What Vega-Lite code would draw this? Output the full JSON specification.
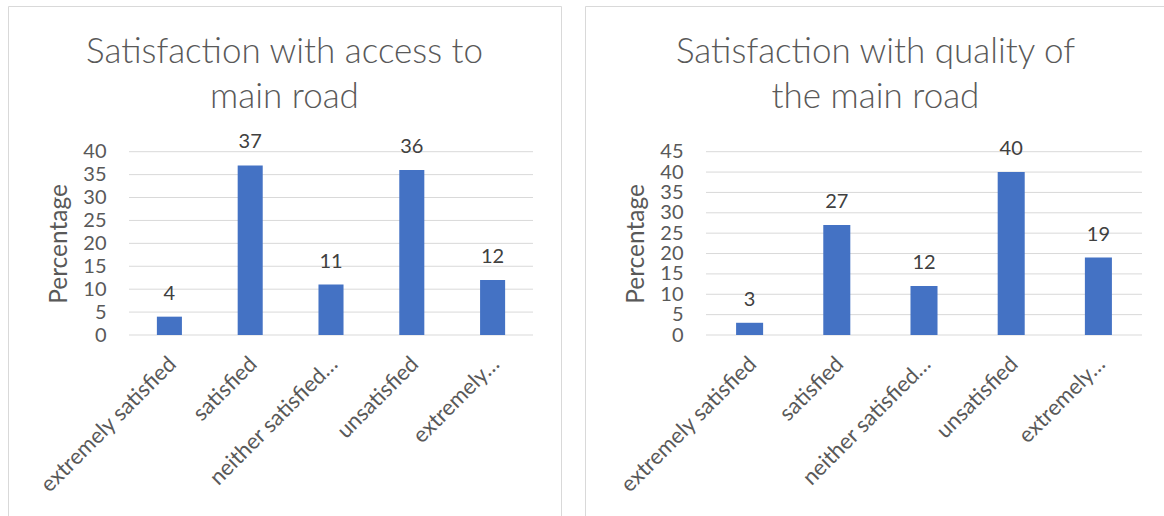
{
  "$schema": "https://vega.github.io/schema/vega-lite/v6.json",
  "background": "white",
  "padding": {"left": 7, "top": 5, "right": 0, "bottom": 0},
  "spacing": 22,
  "config": {
    "font": "Lato",
    "view": {"stroke": "#d9d9d9", "strokeWidth": 1, "fill": "white"},
    "axisY": {
      "orient": "left",
      "offset": -121,
      "domain": false,
      "ticks": false,
      "grid": false,
      "labelFont": "Lato",
      "labelFontSize": 20,
      "labelColor": "#595959",
      "labelPadding": 23,
      "titleFont": "Lato",
      "titleFontSize": 24.5,
      "titleFontWeight": "normal",
      "titleColor": "#595959",
      "titleX": -58,
      "titleY": 237.4
    },
    "axisX": {
      "orient": "bottom",
      "offset": -181,
      "domain": false,
      "ticks": false,
      "grid": false,
      "labelFont": "Lato",
      "labelFontSize": 22,
      "labelColor": "#595959",
      "labelAngle": -45,
      "labelAlign": "right",
      "labelBaseline": "top",
      "labelPadding": 18,
      "labelOffset": -4,
      "labelLimit": 0,
      "labelOverlap": false,
      "labelBound": false,
      "title": null
    },
    "title": {
      "font": "Lato",
      "fontSize": 35,
      "fontWeight": 300,
      "color": "#595959",
      "anchor": "middle",
      "frame": "group",
      "baseline": "alphabetic",
      "lineHeight": 45,
      "offset": -109
    }
  },
  "datasets": {
    "access": [
      {"response": "extremely satisfied", "percentage": 4},
      {"response": "satisfied", "percentage": 37},
      {"response": "neither satisfied…", "percentage": 11},
      {"response": "unsatisfied", "percentage": 36},
      {"response": "extremely…", "percentage": 12}
    ],
    "quality": [
      {"response": "extremely satisfied", "percentage": 3},
      {"response": "satisfied", "percentage": 27},
      {"response": "neither satisfied…", "percentage": 12},
      {"response": "unsatisfied", "percentage": 40},
      {"response": "extremely…", "percentage": 19}
    ],
    "accessGrid": [
      {"gridValue": 0}, {"gridValue": 5}, {"gridValue": 10}, {"gridValue": 15}, {"gridValue": 20},
      {"gridValue": 25}, {"gridValue": 30}, {"gridValue": 35}, {"gridValue": 40}
    ],
    "qualityGrid": [
      {"gridValue": 0}, {"gridValue": 5}, {"gridValue": 10}, {"gridValue": 15}, {"gridValue": 20},
      {"gridValue": 25}, {"gridValue": 30}, {"gridValue": 35}, {"gridValue": 40}, {"gridValue": 45}
    ]
  },
  "hconcat": [
    {
      "width": 553,
      "height": 510,
      "title": {"text": ["Satisfaction with access to", "main road"]},
      "encoding": {
        "x": {
          "field": "response",
          "type": "nominal",
          "scale": {
            "domain": ["extremely satisfied", "satisfied", "neither satisfied…", "unsatisfied", "extremely…"],
            "range": [121, 525],
            "paddingInner": 0.69,
            "paddingOuter": 0.345
          }
        }
      },
      "layer": [
        {
          "data": {"name": "accessGrid"},
          "mark": {"type": "rule", "color": "#d9d9d9", "strokeWidth": 1},
          "encoding": {
            "x": {"datum": "extremely satisfied", "bandPosition": -1.1129},
            "x2": {"datum": "extremely…", "bandPosition": 2.1129},
            "y": {
              "field": "gridValue",
              "type": "quantitative",
              "title": "Percentage",
              "scale": {"domain": [0, 40], "range": [329, 145.7], "nice": false},
              "axis": {"values": [0, 5, 10, 15, 20, 25, 30, 35, 40]}
            }
          }
        },
        {
          "data": {"name": "access"},
          "mark": {"type": "bar", "color": "#4472C4"},
          "encoding": {
            "y": {"field": "percentage", "type": "quantitative", "title": "Percentage"}
          }
        },
        {
          "data": {"name": "access"},
          "mark": {"type": "text", "baseline": "alphabetic", "dy": -17, "fontSize": 20, "color": "#404040"},
          "encoding": {
            "y": {"field": "percentage", "type": "quantitative", "title": "Percentage"},
            "text": {"field": "percentage", "type": "quantitative"}
          }
        }
      ]
    },
    {
      "width": 581,
      "height": 510,
      "title": {"text": ["Satisfaction with quality of", "the main road"]},
      "encoding": {
        "x": {
          "field": "response",
          "type": "nominal",
          "scale": {
            "domain": ["extremely satisfied", "satisfied", "neither satisfied…", "unsatisfied", "extremely…"],
            "range": [121, 557],
            "paddingInner": 0.69,
            "paddingOuter": 0.345
          }
        }
      },
      "layer": [
        {
          "data": {"name": "qualityGrid"},
          "mark": {"type": "rule", "color": "#d9d9d9", "strokeWidth": 1},
          "encoding": {
            "x": {"datum": "extremely satisfied", "bandPosition": -1.1129},
            "x2": {"datum": "extremely…", "bandPosition": 2.1129},
            "y": {
              "field": "gridValue",
              "type": "quantitative",
              "title": "Percentage",
              "scale": {"domain": [0, 45], "range": [329, 145.7], "nice": false},
              "axis": {"values": [0, 5, 10, 15, 20, 25, 30, 35, 40, 45]}
            }
          }
        },
        {
          "data": {"name": "quality"},
          "mark": {"type": "bar", "color": "#4472C4"},
          "encoding": {
            "y": {"field": "percentage", "type": "quantitative", "title": "Percentage"}
          }
        },
        {
          "data": {"name": "quality"},
          "mark": {"type": "text", "baseline": "alphabetic", "dy": -17, "fontSize": 20, "color": "#404040"},
          "encoding": {
            "y": {"field": "percentage", "type": "quantitative", "title": "Percentage"},
            "text": {"field": "percentage", "type": "quantitative"}
          }
        }
      ]
    }
  ]
}
